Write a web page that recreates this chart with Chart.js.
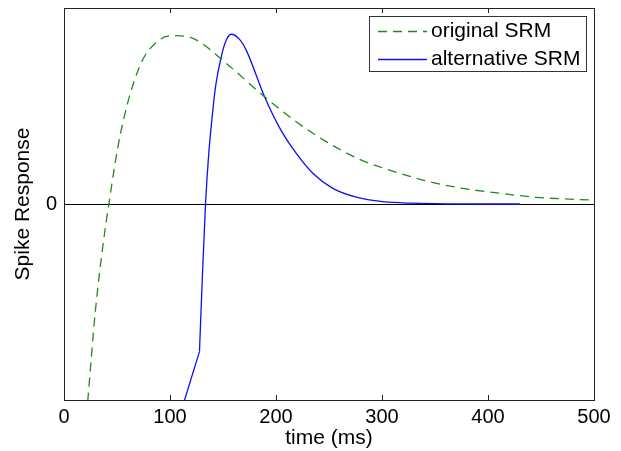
<!DOCTYPE html>
<html>
<head>
<meta charset="utf-8">
<script src="https://cdn.jsdelivr.net/npm/chart.js@4"></script>
<style>
  html, body { margin: 0; padding: 0; background: #fff; }
  #wrap { width: 621px; height: 451px; }
</style>
</head>
<body>
<div id="wrap"><canvas id="chart"></canvas></div>
<script>
// original SRM (dashed green)
const origTime  = [20, 22.5, 29.4, 36.6, 42.3, 53.3, 71.2, 90, 105.8, 124.7, 153, 189.2, 219, 247.4, 278.8, 307, 344.8, 376, 410.8, 445.5, 497, 500];
const origValue = [-1.16, -1, -0.556, -0.218, 0, 0.36, 0.70, 0.837, 0.859, 0.837, 0.718, 0.547, 0.42, 0.318, 0.228, 0.173, 0.114, 0.08, 0.055, 0.034, 0.02, 0.019];

// alternative SRM (solid blue): straight piece below the kink, then the smooth part
const altLowTime  = [110, 127.8];
const altLowValue = [-1.066, -0.753];
const altTime  = [127.8, 130.4, 133.5, 136.6, 139.5, 143, 148.3, 153, 157.7, 165.6, 171.9, 189.2, 203.3, 219, 234.7, 253.6, 275.7, 300.8, 329, 360, 430];
const altValue = [-0.753, -0.39, 0, 0.26, 0.43, 0.6, 0.75, 0.835, 0.866, 0.84, 0.785, 0.547, 0.39, 0.259, 0.157, 0.08, 0.035, 0.012, 0.004, 0.001, 0];

const xTickValues = [0, 100, 200, 300, 400, 500];
const yTickValues = [0];
const seriesNames = ['original SRM', 'alternative SRM'];

const FONT = '"Liberation Sans", Arial, Helvetica, sans-serif';
const GREEN = '#1f8a1f';
const BLUE = '#1010ee';

const toPoints = (xs, ys) => xs.map((x, i) => ({ x: x, y: ys[i] }));

// box frame, inward ticks and legend, MATLAB style
const frameAndLegend = {
  id: 'frameAndLegend',
  afterDraw(chart) {
    const { ctx, chartArea: a, scales } = chart;
    ctx.save();
    ctx.strokeStyle = '#222';
    ctx.lineWidth = 1;
    ctx.strokeRect(Math.round(a.left) + 0.5, Math.round(a.top) + 0.5,
                   Math.round(a.right - a.left), Math.round(a.bottom - a.top));
    xTickValues.forEach(v => {
      const px = Math.round(scales.x.getPixelForValue(v)) + 0.5;
      ctx.beginPath();
      ctx.moveTo(px, a.bottom); ctx.lineTo(px, a.bottom - 5);
      ctx.moveTo(px, a.top); ctx.lineTo(px, a.top + 5);
      ctx.stroke();
    });

    // legend (one row per series name, styled like its first dataset)
    const lx = 369.5, ly = 16.5, lw = 217, lh = 55;
    ctx.fillStyle = '#fff';
    ctx.fillRect(lx, ly, lw, lh);
    ctx.strokeStyle = '#333';
    ctx.strokeRect(lx, ly, lw, lh);
    const rows = [31.5, 59.5];
    seriesNames.forEach((name, i) => {
      const ds = chart.data.datasets.find(d => d.label === name);
      const y = rows[i];
      ctx.beginPath();
      ctx.strokeStyle = ds.borderColor;
      ctx.lineWidth = ds.borderWidth;
      ctx.setLineDash(ds.borderDash || []);
      ctx.moveTo(378, y); ctx.lineTo(427, y);
      ctx.stroke();
      ctx.setLineDash([]);
      ctx.fillStyle = '#000';
      ctx.font = '21px ' + FONT;
      ctx.textBaseline = 'middle';
      ctx.textAlign = 'left';
      ctx.fillText(name, 431, y);
    });
    ctx.restore();
  }
};

new Chart(document.getElementById('chart'), {
  type: 'line',
  data: {
    datasets: [{
      label: seriesNames[0],
      data: toPoints(origTime, origValue),
      borderColor: GREEN,
      borderWidth: 1.3,
      borderDash: [9, 6],
      pointRadius: 0,
      fill: false,
      cubicInterpolationMode: 'monotone'
    }, {
      label: seriesNames[1],
      data: toPoints(altTime, altValue),
      borderColor: BLUE,
      borderWidth: 1.3,
      pointRadius: 0,
      fill: false,
      cubicInterpolationMode: 'monotone'
    }, {
      label: seriesNames[1] + ' (low)',
      data: toPoints(altLowTime, altLowValue),
      borderColor: BLUE,
      borderWidth: 1.3,
      pointRadius: 0,
      fill: false,
      tension: 0
    }]
  },
  options: {
    responsive: true,
    maintainAspectRatio: false,
    animation: false,
    layout: { padding: { top: 8, right: 27, left: 0, bottom: 0 } },
    plugins: { legend: { display: false }, tooltip: { enabled: false } },
    scales: {
      x: {
        type: 'linear',
        min: 0, max: 500,
        afterBuildTicks: s => { s.ticks = xTickValues.map(v => ({ value: v })); },
        afterFit: s => { s.height = 51; s.paddingLeft = 0; s.paddingRight = 0; },
        grid: { display: false, drawTicks: false },
        border: { display: false },
        ticks: { color: '#000', padding: 5, maxRotation: 0, font: { family: FONT, size: 20 } },
        title: { display: true, text: 'time (ms)', color: '#000', padding: { top: 0, bottom: 0 }, font: { family: FONT, size: 21 } }
      },
      y: {
        min: -1, max: 1,
        afterBuildTicks: s => { s.ticks = yTickValues.map(v => ({ value: v })); },
        afterFit: s => { s.width = 64; s.paddingTop = 0; s.paddingBottom = 0; },
        grid: { color: '#000', lineWidth: 1, drawTicks: false },
        border: { display: false },
        ticks: { color: '#000', padding: 7, font: { family: FONT, size: 20 } },
        title: { display: true, text: 'Spike Response', color: '#000', padding: { top: 11, bottom: 0 }, font: { family: FONT, size: 21 } }
      }
    }
  },
  plugins: [frameAndLegend]
});
</script>
</body>
</html>
